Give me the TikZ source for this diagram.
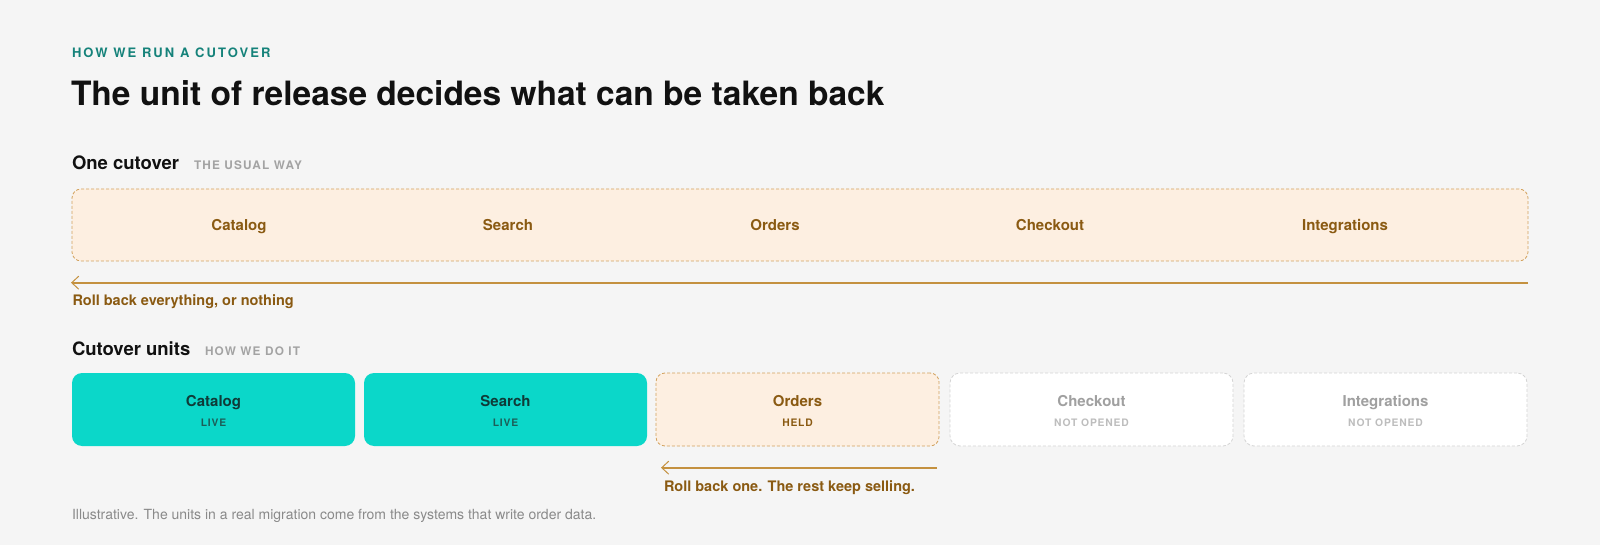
\documentclass[tikz,border=0pt]{standalone}
\usepackage{fontspec}
\setmainfont{TeX Gyre Heros}
\usetikzlibrary{arrows.meta}
\definecolor{bg}{HTML}{F5F5F5}
\definecolor{teal}{HTML}{15827A}
\definecolor{ink}{HTML}{111111}
\definecolor{mute}{HTML}{A3A3A3}
\definecolor{brown}{HTML}{8A5A12}
\definecolor{amber}{HTML}{C4913F}
\definecolor{amberdash}{HTML}{D2A15C}
\definecolor{cream}{HTML}{FDEFE1}
\definecolor{turq}{HTML}{0BD7C9}
\definecolor{turqink}{HTML}{0F3B38}
\definecolor{turqsub}{HTML}{1C5E58}
\definecolor{offgray}{HTML}{A0A0A0}
\definecolor{offsub}{HTML}{BDBDBD}
\definecolor{offdash}{HTML}{D4D4D4}
\definecolor{foot}{HTML}{8A8A8A}
\newfontfamily\spacedfont[LetterSpace=16]{TeX Gyre Heros}
\newfontfamily\spacedsmall[LetterSpace=8]{TeX Gyre Heros}
\newfontfamily\spacedtag[LetterSpace=10]{TeX Gyre Heros}
\tikzset{
  plaintxt/.style={inner sep=0pt, outer sep=0pt, anchor=base west},
  eyebrow/.style={plaintxt, text=teal, font=\spacedfont\fontsize{13}{15}\selectfont\bfseries},
  titletxt/.style={plaintxt, text=ink, font=\fontsize{33.5}{38}\selectfont\bfseries},
  section/.style={plaintxt, text=ink, font=\fontsize{18.5}{22}\selectfont\bfseries},
  tagtxt/.style={plaintxt, text=mute, font=\spacedtag\fontsize{11.8}{13}\selectfont\bfseries},
  heldbox/.style={draw=amberdash, fill=cream, line width=0.8pt, dash pattern=on 3pt off 2pt, rounded corners=9pt, inner sep=0pt, outer sep=0pt},
  livebox/.style={fill=turq, rounded corners=10pt, inner sep=0pt, outer sep=0pt, minimum width=283pt, minimum height=73pt, anchor=north west},
  offbox/.style={draw=offdash, fill=white, line width=0.8pt, dash pattern=on 3pt off 2pt, rounded corners=10pt, inner sep=0pt, outer sep=0pt, minimum width=283pt, minimum height=73pt, anchor=north west},
  unitheld/.style={heldbox, minimum width=283pt, minimum height=73pt, anchor=north west},
  unitname/.style={inner sep=0pt, anchor=base, font=\fontsize{15}{17}\selectfont\bfseries},
  unitstatus/.style={inner sep=0pt, anchor=base, font=\spacedsmall\fontsize{10.3}{12}\selectfont\bfseries},
  rollarrow/.style={draw=amber, line width=2pt, -{Straight Barb[length=7pt, width=13pt, line width=1pt]}},
  rolltxt/.style={plaintxt, text=brown, font=\fontsize{14.5}{17}\selectfont\bfseries},
  foottxt/.style={plaintxt, text=foot, font=\fontsize{14}{16}\selectfont},
}
\begin{document}
\begin{tikzpicture}[x=1pt,y=-1pt]
\fill[bg] (0,0) rectangle (1600,545);
\useasboundingbox (0,0) rectangle (1600,545);

\node[eyebrow] (eyebrow) at (72,57.7) {HOW WE RUN A CUTOVER};
\node[titletxt] (title) at (71,106) {The unit of release decides what can be taken back};

% One cutover
\node[section] (sec1) at (72,170) {One cutover};
\node[tagtxt] (tag1) at (194,169.3) {THE USUAL WAY};
\node[heldbox, minimum width=1456pt, minimum height=72pt, anchor=north west] (onebox) at (72,189) {};
\node[unitname, text=brown] (o1) at (239,231) {Catalog};
\node[unitname, text=brown] (o2) at (508,231) {Search};
\node[unitname, text=brown] (o3) at (775,231) {Orders};
\node[unitname, text=brown] (o4) at (1050,231) {Checkout};
\node[unitname, text=brown] (o5) at (1345,231) {Integrations};
\coordinate (r1s) at (1528,282.7);
\coordinate (r1e) at (71,282.7);
\draw[rollarrow] (r1s) -- (r1e);
\node[rolltxt] (roll1) at (72.5,305.7) {Roll back everything, or nothing};

% Cutover units
\node[section] (sec2) at (72,355) {Cutover units};
\node[tagtxt] (tag2) at (205,355) {HOW WE DO IT};

\node[livebox] (u1) at (72,373) {};
\node[livebox] (u2) at (364,373) {};
\node[unitheld] (u3) at (656,373) {};
\node[offbox] (u4) at (950,373) {};
\node[offbox] (u5) at (1244,373) {};

\node[unitname, text=turqink] (n1) at ([yshift=3.5pt]u1.center) {Catalog};
\node[unitstatus, text=turqsub] (s1) at ([yshift=-17.2pt]u1.center) {LIVE};
\node[unitname, text=turqink] (n2) at ([yshift=3.5pt]u2.center) {Search};
\node[unitstatus, text=turqsub] (s2) at ([yshift=-17.2pt]u2.center) {LIVE};
\node[unitname, text=brown] (n3) at ([yshift=3.5pt]u3.center) {Orders};
\node[unitstatus, text=brown] (s3) at ([yshift=-17.2pt]u3.center) {HELD};
\node[unitname, text=offgray] (n4) at ([yshift=3.5pt]u4.center) {Checkout};
\node[unitstatus, text=offsub] (s4) at ([yshift=-17.2pt]u4.center) {NOT OPENED};
\node[unitname, text=offgray] (n5) at ([yshift=3.5pt]u5.center) {Integrations};
\node[unitstatus, text=offsub] (s5) at ([yshift=-17.2pt]u5.center) {NOT OPENED};

\coordinate (r2s) at (937,467.7);
\coordinate (r2e) at (661,467.7);
\draw[rollarrow] (r2s) -- (r2e);
\node[rolltxt] (roll2) at (664,491) {Roll back one. The rest keep selling.};

\node[foottxt] (footnote) at (72,519) {Illustrative. The units in a real migration come from the systems that write order data.};
\end{tikzpicture}
\end{document}
